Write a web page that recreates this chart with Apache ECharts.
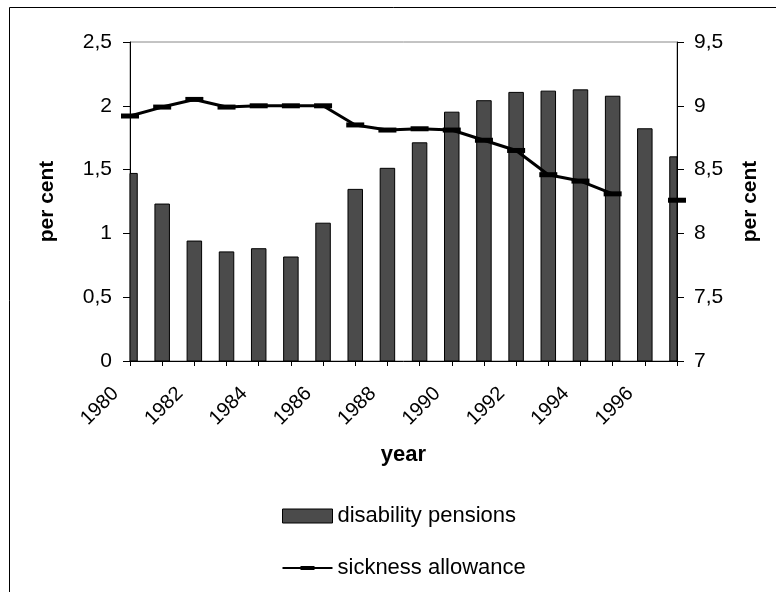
<!DOCTYPE html>
<html>
<head>
<meta charset="utf-8">
<script src="https://cdn.jsdelivr.net/npm/echarts@6/dist/echarts.min.js"></script>
<style>
  html, body { margin: 0; padding: 0; background: #fff; }
  #chart { width: 776px; height: 592px; }
</style>
</head>
<body>
<div id="chart"></div>
<script>
// Years on the category axis
const years = ['1980','1981','1982','1983','1984','1985','1986','1987','1988',
               '1989','1990','1991','1992','1993','1994','1995','1996','1997'];

// Disability pensions, per cent (left axis)
const disabilityPensions = [1.47, 1.23, 0.94, 0.855, 0.88, 0.815, 1.08, 1.345, 1.51,
                            1.71, 1.95, 2.04, 2.105, 2.115, 2.125, 2.075, 1.82, 1.60];

// Sickness allowance, per cent (right axis); no figure for 1996
const sicknessAllowance = [8.92, 8.99, 9.05, 8.99, 9.0, 9.0, 9.0, 8.85, 8.81,
                           8.82, 8.81, 8.73, 8.65, 8.46, 8.41, 8.31, null, 8.26];

// Tick values of both value axes
const leftTicks = [0, 0.5, 1, 1.5, 2, 2.5];
const rightTicks = [7, 7.5, 8, 8.5, 9, 9.5];

const FONT = 'Liberation Sans, Arial, sans-serif';
const BAR_FILL = '#4b4b4b';
const BAR_WIDTH = 14.5;
const commaDecimal = v => String(v).replace('.', ',');

// Bars sit on the ticks, so the first and last ones are cut by the plot edges
function renderBar(params, api) {
  const top = api.coord([api.value(0), api.value(1)]);
  const base = api.coord([api.value(0), 0]);
  const cs = params.coordSys;
  const rect = echarts.graphic.clipRectByRect(
    { x: top[0] - BAR_WIDTH / 2, y: top[1], width: BAR_WIDTH, height: base[1] - top[1] },
    { x: cs.x, y: cs.y, width: cs.width, height: cs.height }
  );
  if (!rect) return null;
  return {
    type: 'rect',
    shape: rect,
    style: { fill: BAR_FILL, stroke: '#000', lineWidth: 1 }
  };
}

const chart = echarts.init(document.getElementById('chart'), null, { renderer: 'canvas' });

chart.setOption({
  animation: false,
  backgroundColor: '#fff',
  textStyle: { fontFamily: FONT, color: '#000' },
  graphic: [{
    type: 'rect',
    shape: { x: 9.5, y: 7.5, width: 820, height: 700 },
    style: { fill: 'none', stroke: '#000', lineWidth: 1 },
    silent: true,
    z: -10
  }],
  grid: {
    left: 130, right: 99, top: 42, bottom: 231,
    show: true, borderColor: '#888', borderWidth: 1,
    containLabel: false, outerBoundsMode: 'none'
  },
  legend: {
    orient: 'vertical',
    left: 282, top: 505,
    padding: 0,
    itemWidth: 50, itemHeight: 14, itemGap: 30,
    textStyle: { fontFamily: FONT, fontSize: 22, color: '#000' },
    data: [
      {
        name: 'disability pensions',
        icon: 'rect',
        itemStyle: { color: BAR_FILL, borderColor: '#000', borderWidth: 1 }
      },
      {
        name: 'sickness allowance',
        icon: 'path://M0,0h0.01v0.01h-0.01z M0,14h0.01v-0.01h-0.01z M0,6h50v2h-50z M18,5h14v4h-14z',
        itemStyle: { color: '#000', borderWidth: 0 }
      }
    ]
  },
  xAxis: {
    type: 'category',
    data: years,
    boundaryGap: false,
    name: 'year',
    nameLocation: 'middle',
    nameGap: 82,
    nameTextStyle: { fontFamily: FONT, fontSize: 22, fontWeight: 'bold', color: '#000' },
    axisLine: { lineStyle: { color: '#000', width: 1 } },
    axisTick: { show: true, interval: 0, length: 5, lineStyle: { color: '#000' } },
    axisLabel: {
      interval: 1, rotate: 45, margin: 44,
      verticalAlign: 'bottom', lineHeight: 41,
      fontFamily: FONT, fontSize: 20, color: '#000'
    },
    splitLine: { show: false }
  },
  yAxis: [{
    type: 'value',
    position: 'left',
    min: leftTicks[0], max: leftTicks[leftTicks.length - 1], interval: 0.5,
    name: 'per cent',
    nameLocation: 'middle',
    nameGap: 72,
    nameTextStyle: { fontFamily: FONT, fontSize: 21, fontWeight: 'bold', color: '#000' },
    axisLine: { show: true, lineStyle: { color: '#000', width: 1 } },
    axisTick: { show: true, length: 7, lineStyle: { color: '#000' } },
    axisLabel: { margin: 18, fontFamily: FONT, fontSize: 21, color: '#000', formatter: commaDecimal },
    splitLine: { show: false }
  }, {
    type: 'value',
    position: 'right',
    min: rightTicks[0], max: rightTicks[rightTicks.length - 1], interval: 0.5,
    name: 'per cent',
    nameLocation: 'middle',
    nameGap: 63,
    nameRotate: 90,
    nameTextStyle: { fontFamily: FONT, fontSize: 21, fontWeight: 'bold', color: '#000' },
    axisLine: { show: true, lineStyle: { color: '#000', width: 1 } },
    axisTick: { show: true, length: 7, lineStyle: { color: '#000' } },
    axisLabel: { margin: 17, fontFamily: FONT, fontSize: 21, color: '#000', formatter: commaDecimal },
    splitLine: { show: false }
  }],
  series: [{
    name: 'disability pensions',
    type: 'custom',
    yAxisIndex: 0,
    data: disabilityPensions.map((v, i) => [i, v]),
    encode: { x: 0, y: 1 },
    renderItem: renderBar,
    itemStyle: { color: BAR_FILL, borderColor: '#000', borderWidth: 1 }
  }, {
    name: 'sickness allowance',
    type: 'line',
    yAxisIndex: 1,
    data: sicknessAllowance,
    connectNulls: false,
    symbol: 'rect',
    symbolSize: [18, 5],
    showSymbol: true,
    clip: false,
    lineStyle: { color: '#000', width: 3 },
    itemStyle: { color: '#000' },
    z: 5
  }]
});
</script>
</body>
</html>
